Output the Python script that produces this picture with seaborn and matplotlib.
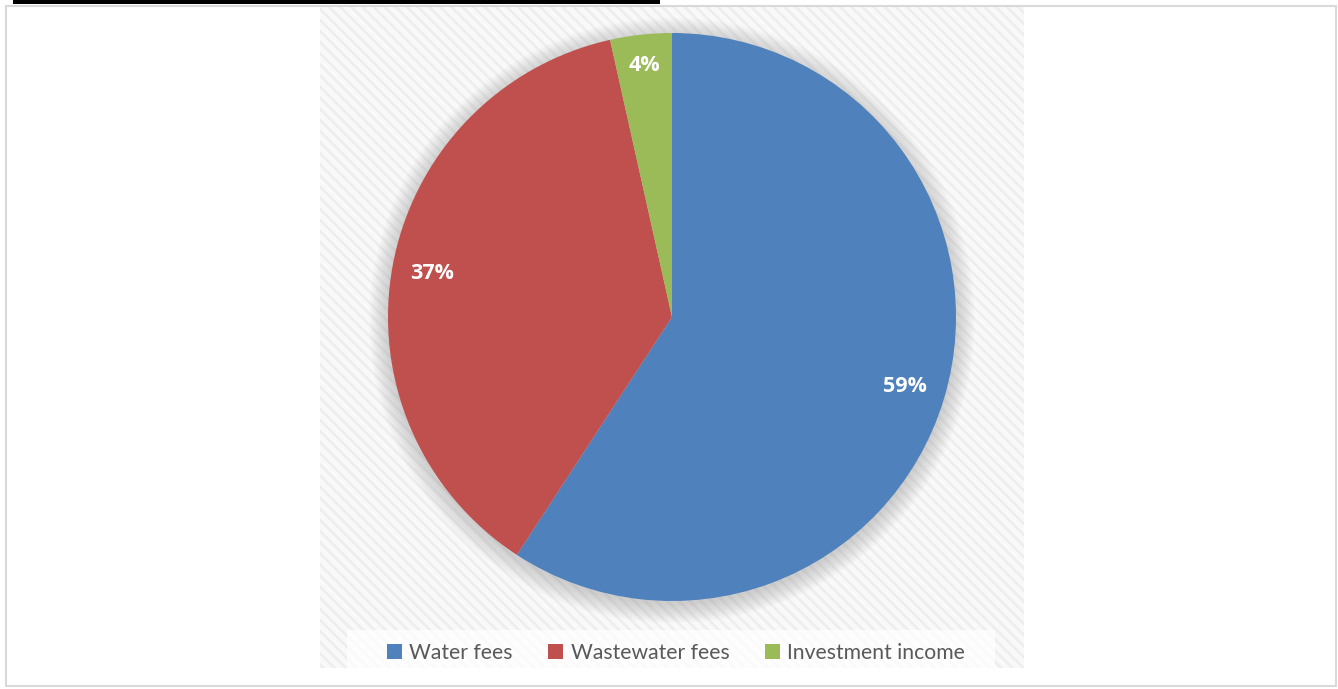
import matplotlib
matplotlib.use("Agg")
import matplotlib.pyplot as plt
import matplotlib.patches as mpatches
import numpy as np
import seaborn as sns

# Revenue shares
categories = ["Water fees", "Wastewater fees", "Investment income"]
shares = [59.2, 37.3, 3.5]
labels = ["59%", "37%", "4%"]
colors = ["#4F81BD", "#C0504D", "#9BBB59"]

sns.set_theme(style="white")
plt.rcParams['font.family'] = ['Lato', 'DejaVu Sans']
plt.rcParams['hatch.linewidth'] = 2.0

W, H = 1338, 689
fig = plt.figure(figsize=(W / 100, H / 100), dpi=100)
fig.patch.set_facecolor("white")

def fx(px):
    return px / W

def fy(py):
    return 1 - py / H

# outer border and black bar at top
fig.patches.append(mpatches.Rectangle((fx(6), fy(686)), fx(1330), 680 / H, transform=fig.transFigure,
                                      fill=False, edgecolor="#d9d9d9", linewidth=1.5))
fig.patches.append(mpatches.Rectangle((fx(13), fy(3.5)), fx(647), 3.5 / H, transform=fig.transFigure,
                                      facecolor="black", edgecolor="none"))

# hatched plot area
bg = fig.add_axes([fx(320), fy(668), fx(704), 663 / H])
bg.set_xlim(0, 1)
bg.set_ylim(0, 1)
bg.axis("off")
bg.add_patch(mpatches.Rectangle((0, 0), 1, 1, facecolor="#f9f9f9", edgecolor="#eeeeee",
                                hatch="\\\\\\", linewidth=0))

# pie axes
cx, cy, r = 672, 317, 284
ax = fig.add_axes([fx(cx - r), fy(cy + r), fx(2 * r), 2 * r / H])

# soft shadow
for i in range(12):
    ax.add_patch(mpatches.Circle((0, -0.012), 1.0 + 0.006 * i, facecolor="#808080",
                                 alpha=0.03, edgecolor="none", clip_on=False, zorder=0))

wedges, _ = ax.pie(shares, colors=colors, startangle=90, counterclock=False, radius=1,
                   wedgeprops=dict(linewidth=0, zorder=2), frame=False)
ax.set_xlim(-1, 1)
ax.set_ylim(-1, 1)
ax.set_aspect("equal")
ax.axis("off")

dist = [0.856, 0.86, 0.89]
for w, lab, d in zip(wedges, labels, dist):
    ang = np.deg2rad((w.theta1 + w.theta2) / 2)
    ax.text(d * np.cos(ang), d * np.sin(ang), lab, ha="center", va="center",
            color="white", fontsize=15.5, fontweight="bold", family=["Open Sans", "DejaVu Sans"],
            zorder=3)

# legend box
fig.patches.append(mpatches.Rectangle((fx(347), fy(677)), fx(648), 47 / H, transform=fig.transFigure,
                                      facecolor="white", alpha=0.75, edgecolor="none"))
handles = [mpatches.Patch(facecolor=c, edgecolor="none") for c in colors]
fig.legend(handles, categories, loc="center", bbox_to_anchor=(fx(676), fy(653)), ncol=3,
           frameon=False, fontsize=15.2, labelcolor="#595959", handlelength=0.7, handleheight=0.7,
           handletextpad=0.35, columnspacing=1.7)

fig.savefig("out.png", dpi=100)
